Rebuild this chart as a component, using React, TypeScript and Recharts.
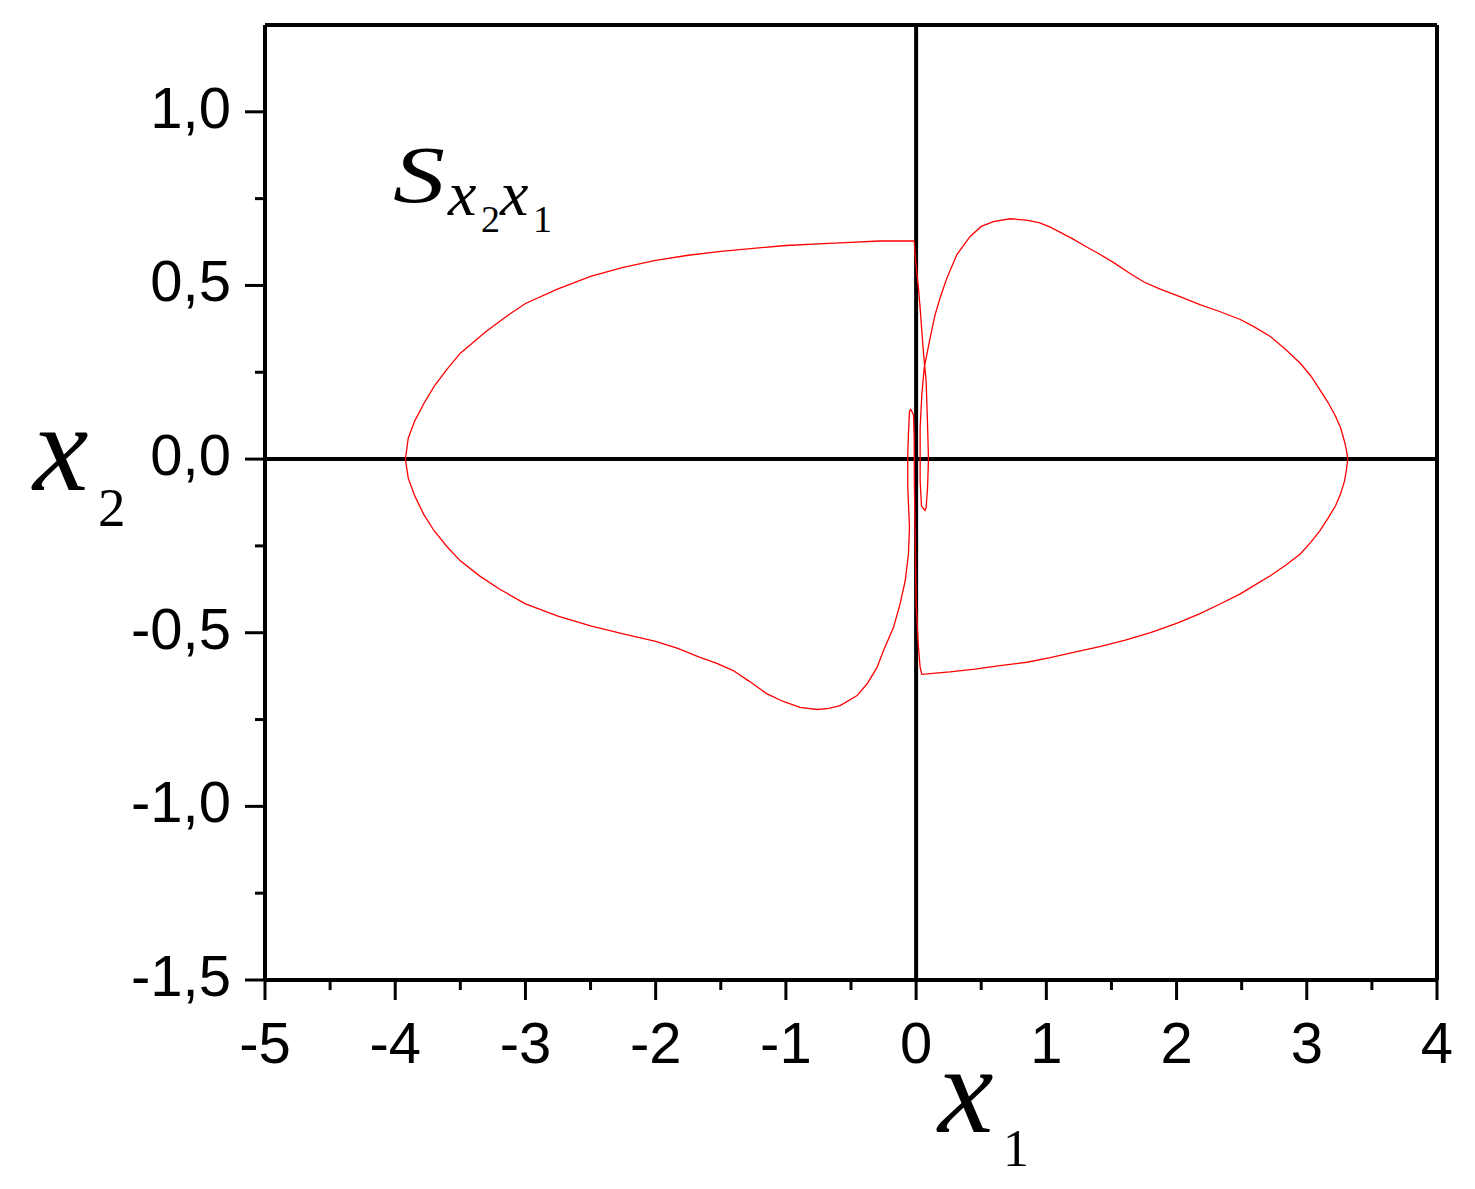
import React from "react"
import { LineChart, Line, XAxis, YAxis, ReferenceLine } from "recharts"

// curve pieces, walked in order round the closed loop
const innerRight = [
  [-0.015, 0.628], [-0.008, 0.589], [0.005, 0.54], [0.018, 0.492], [0.031, 0.435],
  [0.044, 0.368], [0.058, 0.3], [0.077, 0.224], [0.087, 0.11], [0.095, 0.0],
  [0.088, -0.082], [0.077, -0.14], [0.068, -0.148], [0.041, -0.135], [0.031, -0.063],
  [0.031, 0.09], [0.044, 0.186], [0.062, 0.262], [0.087, 0.31], [0.108, 0.35],
]
const rightLobe = [
  [0.146, 0.416], [0.184, 0.464], [0.236, 0.521], [0.313, 0.589], [0.415, 0.641],
  [0.5, 0.67], [0.594, 0.684], [0.72, 0.692], [0.85, 0.688], [0.95, 0.68],
  [1.03, 0.668], [1.2, 0.635], [1.3, 0.613], [1.41, 0.59], [1.52, 0.565],
  [1.64, 0.535], [1.75, 0.51], [1.87, 0.49], [2.03, 0.467], [2.18, 0.445],
  [2.33, 0.425], [2.49, 0.402], [2.6, 0.38], [2.72, 0.353], [2.84, 0.315],
  [2.95, 0.276], [3.03, 0.24], [3.1, 0.2], [3.16, 0.165], [3.22, 0.124],
  [3.26, 0.09], [3.29, 0.05], [3.305, 0.025], [3.315, 0], [3.305, -0.03],
  [3.29, -0.063], [3.26, -0.1], [3.22, -0.135], [3.16, -0.172], [3.1, -0.207],
  [3.03, -0.24], [2.95, -0.273], [2.84, -0.305], [2.72, -0.336], [2.6, -0.363],
  [2.49, -0.388], [2.33, -0.418], [2.18, -0.445], [2.0, -0.473], [1.8, -0.5],
  [1.6, -0.522], [1.41, -0.54], [1.2, -0.557], [1.03, -0.572], [0.85, -0.585],
  [0.645, -0.595], [0.45, -0.605], [0.26, -0.613], [0.044, -0.62],
]
const innerLeft = [
  [0.031, -0.6], [0.018, -0.542], [0.0, -0.417], [-0.005, -0.274], [-0.013, -0.082],
  [-0.015, 0.061], [-0.02, 0.128], [-0.041, 0.143], [-0.051, 0.138], [-0.059, 0.072],
  [-0.064, 0.014], [-0.064, -0.082], [-0.051, -0.197], [-0.059, -0.274], [-0.084, -0.351],
]
const leftLobe = [
  [-0.123, -0.417], [-0.174, -0.485], [-0.251, -0.552], [-0.3, -0.6], [-0.376, -0.647],
  [-0.453, -0.681], [-0.584, -0.71], [-0.67, -0.718], [-0.76, -0.721], [-0.891, -0.715],
  [-1.02, -0.698], [-1.145, -0.676], [-1.28, -0.64], [-1.405, -0.609], [-1.53, -0.588],
  [-1.66, -0.571], [-1.83, -0.545], [-2.0, -0.525], [-2.25, -0.503], [-2.5, -0.48],
  [-2.75, -0.452], [-3.0, -0.417], [-3.2, -0.374], [-3.35, -0.337], [-3.5, -0.293],
  [-3.6, -0.253], [-3.7, -0.207], [-3.78, -0.16], [-3.85, -0.106], [-3.9, -0.055],
  [-3.922, 0], [-3.9, 0.06], [-3.85, 0.11], [-3.78, 0.16], [-3.7, 0.21],
  [-3.6, 0.26], [-3.5, 0.305], [-3.3, 0.368], [-3.15, 0.41], [-3.0, 0.448],
  [-2.75, 0.49], [-2.5, 0.526], [-2.25, 0.552], [-2.0, 0.572], [-1.75, 0.587],
  [-1.5, 0.598], [-1.25, 0.607], [-1.0, 0.615], [-0.75, 0.62], [-0.5, 0.624],
  [-0.28, 0.628], [-0.015, 0.628],
]

const xTicks = [-5, -4.5, -4, -3.5, -3, -2.5, -2, -1.5, -1, -0.5, 0, 0.5, 1, 1.5, 2, 2.5, 3, 3.5, 4]
const yTicks = [-1.5, -1.25, -1, -0.75, -0.5, -0.25, 0, 0.25, 0.5, 0.75, 1]

const data = [...innerRight, ...rightLobe, ...innerLeft, ...leftLobe].map(([x, y]) => ({ x, y }))

const sans = "'Liberation Sans', Arial, sans-serif"
const serif = "'Liberation Serif', 'Times New Roman', serif"

const XTick = (props: any) => {
  const { x, y, payload } = props
  const v = payload.value
  const major = Number.isInteger(v)
  return (
    <g>
      <line x1={x} x2={x} y1={y} y2={y + (major ? 20 : 10)} stroke="#000" strokeWidth={3} />
      {major && (
        <text x={x} y={y + 83} textAnchor="middle" fontFamily={sans} fontSize={58} fill="#000">
          {String(v)}
        </text>
      )}
    </g>
  )
}

const YTick = (props: any) => {
  const { x, y, payload } = props
  const v = payload.value
  const major = Math.abs(v * 2 - Math.round(v * 2)) < 1e-9
  return (
    <g>
      <line x1={x} x2={x - (major ? 20 : 10)} y1={y} y2={y} stroke="#000" strokeWidth={3} />
      {major && (
        <text x={x - 34} y={y + 16} textAnchor="end" fontFamily={sans} fontSize={58} fill="#000">
          {v.toFixed(1).replace(".", ",")}
        </text>
      )}
    </g>
  )
}

const Labels = () => (
  <g fill="#000" fontFamily={serif} fontStyle="italic">
    <text x={393} y={202} fontSize={80} textLength={52} lengthAdjust="spacingAndGlyphs">S</text>
    <text x={448} y={215} fontSize={64}>x</text>
    <text x={481} y={232} fontSize={38} fontStyle="normal">2</text>
    <text x={500} y={215} fontSize={64}>x</text>
    <text x={533} y={232} fontSize={38} fontStyle="normal">1</text>

    <text x={938} y={1132} fontSize={125}>x</text>
    <text x={1003} y={1166} fontSize={52} fontStyle="normal">1</text>

    <text x={33} y={490} fontSize={125}>x</text>
    <text x={98} y={526} fontSize={55} fontStyle="normal">2</text>
  </g>
)

export default function App() {
  return (
    <div style={{ position: "absolute", left: 0, top: 0, width: 1475, height: 1189, background: "#fff" }}>
      <LineChart width={1475} height={1189} data={data} margin={{ top: 25, right: 38, left: 0, bottom: 0 }}>
        <XAxis
          type="number"
          dataKey="x"
          domain={[-5, 4]}
          ticks={xTicks}
          interval={0}
          allowDataOverflow
          height={209}
          tickSize={0}
          tickMargin={0}
          tickLine={false}
          axisLine={{ stroke: "#000", strokeWidth: 4 }}
          tick={<XTick />}
        />
        <YAxis
          type="number"
          dataKey="y"
          domain={[-1.5, 1.25]}
          ticks={yTicks}
          interval={0}
          allowDataOverflow
          width={265}
          tickSize={0}
          tickMargin={0}
          tickLine={false}
          axisLine={{ stroke: "#000", strokeWidth: 4 }}
          tick={<YTick />}
        />
        <ReferenceLine y={1.25} stroke="#000" strokeWidth={4} />
        <ReferenceLine x={4} stroke="#000" strokeWidth={4} />
        <ReferenceLine y={0} stroke="#000" strokeWidth={4} />
        <ReferenceLine x={0} stroke="#000" strokeWidth={4} />
        <Line
          type="linear"
          dataKey="y"
          stroke="#ff0000"
          strokeWidth={1.3}
          dot={false}
          activeDot={false}
          isAnimationActive={false}
        />
        <Labels />
      </LineChart>
    </div>
  )
}
